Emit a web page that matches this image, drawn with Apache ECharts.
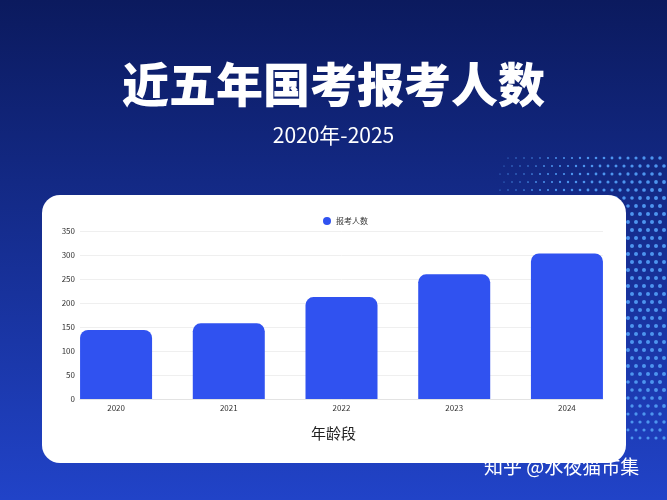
<!DOCTYPE html>
<html><head><meta charset="utf-8">
<script src="https://cdn.jsdelivr.net/npm/echarts@6/dist/echarts.min.js"></script>
<style>html,body{margin:0;padding:0;background:#0b1a5e;}#c{width:667px;height:500px;}</style>
</head><body><div id="c"></div>
<script>
const title = '近五年国考报考人数';
const subtitle = '2020年-2025';
const seriesName = '报考人数';
const axisName = '年龄段';
const watermark = '知乎 @水夜猫市集';
const years = ['2020', '2021', '2022', '2023', '2024'];
const applicants = [143.7, 157.6, 212.3, 259.8, 303.3];
const yTicks = [0, 50, 100, 150, 200, 250, 300, 350];

const chart = echarts.init(document.getElementById('c'), null, {renderer: 'canvas'});
const FONT = '"Noto Sans CJK SC", "Noto Sans", sans-serif';

// decorative halftone dots (background only)
const deco = [];
for (let y = 158; y <= 440; y += 8) {
  for (let x = 500; x <= 667; x += 8) {
    const ox = ((y - 158) / 8) % 2 ? 4 : 0;
    const px = x + ox;
    const d = Math.hypot(px - 760, y - 290);
    const r = Math.min(2.0, 2.2 - (d - 120) / 100);
    if (r > 0.5) deco.push({type: 'circle', z: -10, shape: {cx: px, cy: y, r: r}, style: {fill: '#4d95ef'}, silent: true});
  }
}

const option = {
  animation: false,
  backgroundColor: new echarts.graphic.LinearGradient(0, 0, 0, 1, [
    {offset: 0, color: '#0b1a5e'}, {offset: 1, color: '#2143c8'}
  ]),
  graphic: deco.concat([
    {type: 'rect', z: -5, shape: {x: 42, y: 195, width: 584, height: 268, r: 18}, style: {fill: '#ffffff'}, silent: true},
    {type: 'text', left: 'center', top: 61, style: {text: title, fill: '#ffffff', font: '900 47px ' + FONT}},
    {type: 'text', left: 'center', top: 125, style: {text: subtitle, fill: '#ffffff', font: '400 21px ' + FONT}},
    {type: 'text', left: 'center', top: 426, style: {text: axisName, fill: '#222222', font: '400 15px ' + FONT}},
    {type: 'text', left: 484, top: 457, style: {text: watermark, fill: '#ffffff', font: '400 19px ' + FONT}}
  ]),
  legend: {
    top: 212, left: 318, icon: 'circle', itemWidth: 8, itemHeight: 8, itemGap: 6,
    textStyle: {fontSize: 8, color: '#333', fontFamily: FONT},
    data: [seriesName]
  },
  grid: {left: 80, right: 64, top: 231, bottom: 101, containLabel: false},
  xAxis: {
    type: 'value', min: -0.32, max: 4.32,
    axisLine: {show: true, lineStyle: {color: '#e3e3e3'}},
    axisTick: {show: false},
    splitLine: {show: false},
    axisLabel: {
      customValues: [0, 1, 2, 3, 4],
      formatter: v => years[Math.round(v)] || '',
      fontSize: 8, color: '#333', margin: 5, fontFamily: FONT
    }
  },
  yAxis: {
    type: 'value', min: 0, max: 350, interval: 50,
    axisLine: {show: false}, axisTick: {show: false},
    axisLabel: {fontSize: 8, color: '#333', margin: 5, fontFamily: FONT,
      customValues: yTicks},
    splitLine: {lineStyle: {color: '#efefef', width: 1}}
  },
  series: [{
    name: seriesName, type: 'bar', barWidth: 72,
    data: applicants.map((v, i) => [i, v]),
    itemStyle: {color: '#3052f0', borderRadius: [8, 8, 0, 0]}
  }]
};
chart.setOption(option);
</script></body></html>
